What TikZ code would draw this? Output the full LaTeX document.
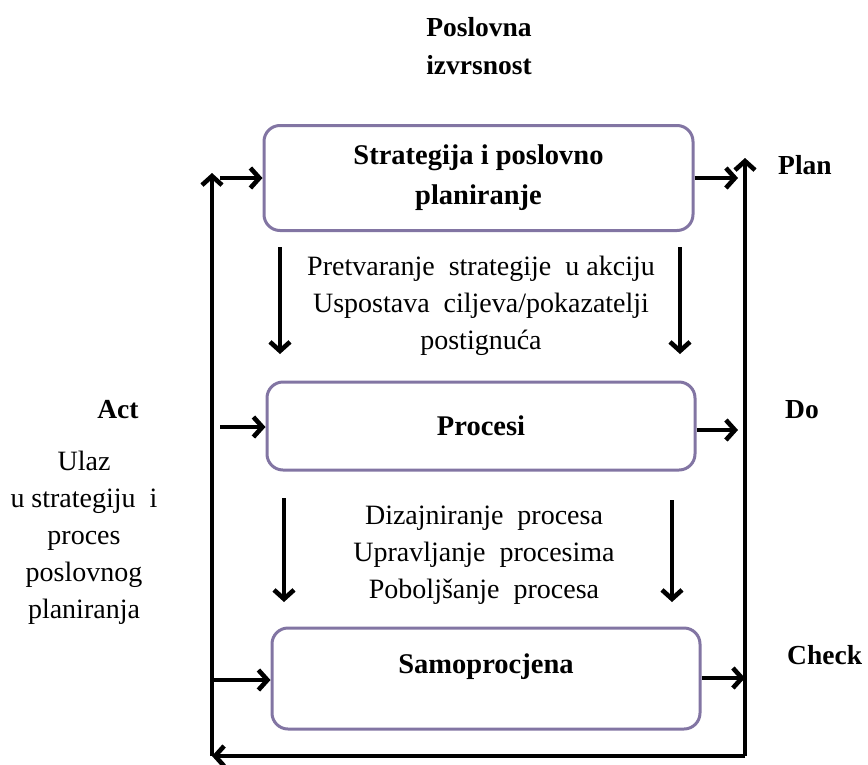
\documentclass[tikz,border=0pt]{standalone}
\usepackage{fontspec}
\setmainfont{Liberation Serif}
\usetikzlibrary{arrows.meta}
\definecolor{boxc}{HTML}{8275A3}
\begin{document}
\begin{tikzpicture}[x=1pt,y=-1pt,
  box/.style={draw=boxc, line width=3pt, rounded corners=16pt, inner sep=0pt, align=center, font=\fontsize{28.5}{40}\selectfont\bfseries},
  arr/.style={line width=3.8pt, -{Straight Barb[length=9pt,width=20pt,line width=0.8pt 1]}},
  txt/.style={align=center, font=\fontsize{28}{37}\selectfont, inner sep=0pt},
  lbl/.style={align=center, font=\fontsize{27.5}{38}\selectfont\bfseries, inner sep=0pt}]
\useasboundingbox (0,0) rectangle (868,764);
% boxes
\node[box, minimum width=429pt, minimum height=105pt] (top) at (478.5,178) {Strategija i poslovno\\planiranje};
\node[box, minimum width=428pt, minimum height=88pt] (mid) at (481,426) {Procesi};
\node[box, minimum width=428pt, minimum height=101pt, text depth=30pt] (bot) at (486,678.5) {Samoprocjena};
% frame coordinates
\coordinate (BL) at (212,756);
\coordinate (TL) at (212,173);
\coordinate (BR) at (745,756);
\coordinate (TR) at (745,158);
\coordinate (L1) at (220,178);
\coordinate (L2) at (220,427);
\coordinate (L3) at (212,680);
\coordinate (R1) at (738,178);
\coordinate (R2) at (738,430);
\coordinate (R3) at (745,678);
% frame
\draw[arr] (BR) -- (TR);
\draw[arr] (BR) -- (BL);
\draw[arr] (BL) -- (TL);
% horizontal arrows
\draw[arr] (L1) -- (L1 -| top.west);
\draw[arr] (L2) -- (L2 -| mid.west);
\draw[arr] (L3) -- (L3 -| bot.west);
\draw[arr] (R1 -| top.east) -- (R1);
\draw[arr] (R2 -| mid.east) -- (R2);
\draw[arr] (R3 -| bot.east) -- (R3);
% down arrows
\coordinate (d1a) at (280,247); \coordinate (d1b) at (280,354);
\coordinate (d2a) at (680,247); \coordinate (d2b) at (680,354);
\coordinate (d3a) at (284,498); \coordinate (d3b) at (284,602);
\coordinate (d4a) at (672,500); \coordinate (d4b) at (672,602);
\draw[arr] (d1a) -- (d1b);
\draw[arr] (d2a) -- (d2b);
\draw[arr] (d3a) -- (d3b);
\draw[arr] (d4a) -- (d4b);
% texts
\node[txt] (t1) at (481,306) {Pretvaranje\ \ strategije\ \ u akciju\\Uspostava\ \ ciljeva/pokazatelji\\postignuća};
\node[txt] (t2) at (484,555) {Dizajniranje\ \ procesa\\Upravljanje\ \ procesima\\Poboljšanje\ \ procesa};
\node[lbl] (pi) at (479,46) {Poslovna\\izvrsnost};
\node[lbl, anchor=west] (plan) at (778,165) {Plan};
\node[lbl, anchor=west] (do) at (785,410) {Do};
\node[lbl, anchor=west] (check) at (787,655) {Check};
\node[lbl] (act) at (118,410) {Act};
\node[txt] (ulaz) at (84,538) {Ulaz\\u strategiju\ \ i\\proces\\poslovnog\\planiranja};
\end{tikzpicture}
\end{document}
